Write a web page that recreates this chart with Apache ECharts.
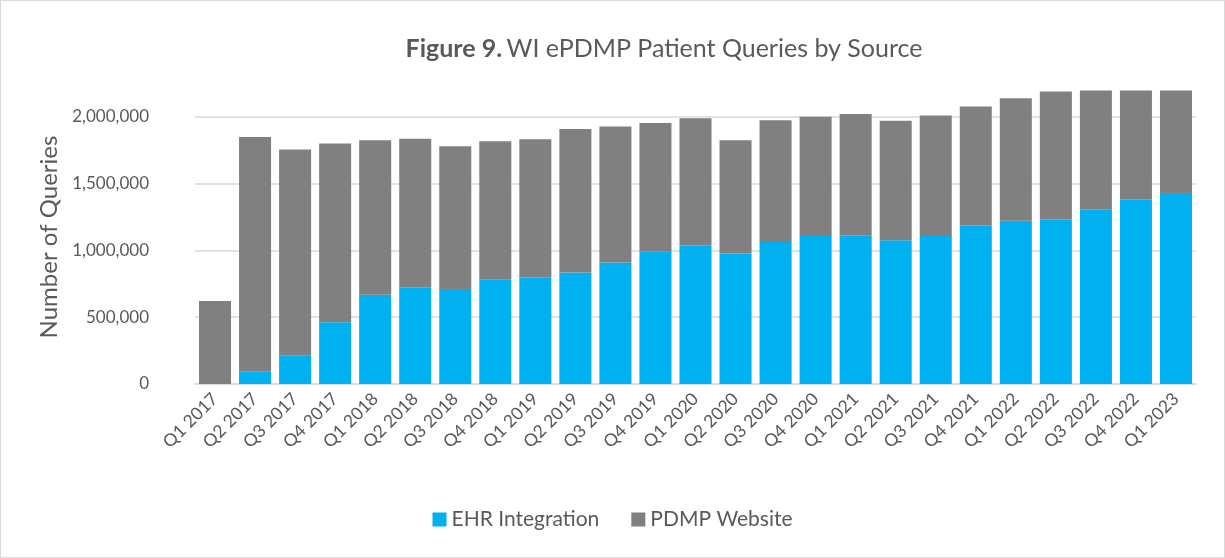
<!DOCTYPE html>
<html>
<head>
<meta charset="utf-8">
<script src="https://cdn.jsdelivr.net/npm/echarts@6/dist/echarts.min.js"></script>
<style>
    html, body { margin: 0; padding: 0; background: #fff; }
    #chart { width: 1225px; height: 558px; box-sizing: border-box; border: 1px solid #D9D9D9; }
</style>
</head>
<body>
<div id="chart"></div>
<script>
var quarters = ['Q1 2017','Q2 2017','Q3 2017','Q4 2017','Q1 2018','Q2 2018','Q3 2018','Q4 2018',
    'Q1 2019','Q2 2019','Q3 2019','Q4 2019','Q1 2020','Q2 2020','Q3 2020','Q4 2020',
    'Q1 2021','Q2 2021','Q3 2021','Q4 2021','Q1 2022','Q2 2022','Q3 2022','Q4 2022','Q1 2023'];

// EHR Integration queries
var ehr = [0, 92000, 211000, 463000, 667000, 724000, 711000, 781000,
    798000, 835000, 910000, 989000, 1038000, 976000, 1063000, 1108000,
    1113000, 1076000, 1108000, 1187000, 1222000, 1232000, 1304000, 1383000, 1430000];

// PDMP Website queries
var website = [622000, 1757000, 1544000, 1336000, 1157000, 1112000, 1068000, 1036000,
    1033000, 1073000, 1016000, 964000, 950000, 848000, 910000, 892000,
    907000, 894000, 902000, 890000, 916000, 957000, 892000, 813000, 766000];

var fontName = 'Lato, "Open Sans", sans-serif';

var myChart = echarts.init(document.getElementById('chart'));

var option = {
    animation: false,
    textStyle: { fontFamily: fontName },
    title: {
        text: '{b|Figure 9.} {n|WI ePDMP Patient Queries by Source}',
        left: 658,
        textAlign: 'center',
        top: 30,
        textStyle: {
            rich: {
                b: { fontFamily: fontName, fontSize: 25, fontWeight: 'bold', color: '#595959' },
                n: { fontFamily: fontName, fontSize: 25, fontWeight: 'normal', color: '#595959' }
            }
        }
    },
    legend: {
        data: ['EHR Integration', 'PDMP Website'],
        bottom: 22,
        left: 'center',
        icon: 'rect',
        itemWidth: 14,
        itemHeight: 14,
        itemGap: 32,
        textStyle: { fontFamily: fontName, fontSize: 21, color: '#595959' }
    },
    grid: {
        left: 194,
        right: 28,
        top: 89,
        bottom: 173
    },
    xAxis: {
        type: 'category',
        data: quarters,
        axisTick: { show: false },
        axisLine: { lineStyle: { color: '#D9D9D9', width: 1.5 } },
        axisLabel: {
            interval: 0,
            rotate: 45,
            margin: 12,
            fontFamily: fontName,
            fontSize: 17.5,
            color: '#595959'
        }
    },
    yAxis: {
        type: 'value',
        min: 0,
        max: 2200000,
        interval: 500000,
        name: 'Number of Queries',
        nameLocation: 'middle',
        nameGap: 118,
        nameTextStyle: { fontFamily: fontName, fontSize: 24, color: '#595959' },
        axisLine: { show: false },
        axisTick: { show: false },
        splitLine: { showMaxLine: false, lineStyle: { color: '#D9D9D9', width: 1.5 } },
        axisLabel: {
            showMaxLabel: false,
            margin: 46,
            fontFamily: fontName,
            fontSize: 17,
            color: '#595959',
            formatter: function (v) { return v.toLocaleString('en-US'); }
        }
    },
    series: [
        {
            name: 'EHR Integration',
            type: 'bar',
            stack: 'total',
            barCategoryGap: '20%',
            itemStyle: { color: '#00B0F0' },
            data: ehr
        },
        {
            name: 'PDMP Website',
            type: 'bar',
            stack: 'total',
            barCategoryGap: '20%',
            itemStyle: { color: '#808080' },
            data: website
        }
    ]
};
myChart.setOption(option);
</script>
</body>
</html>
